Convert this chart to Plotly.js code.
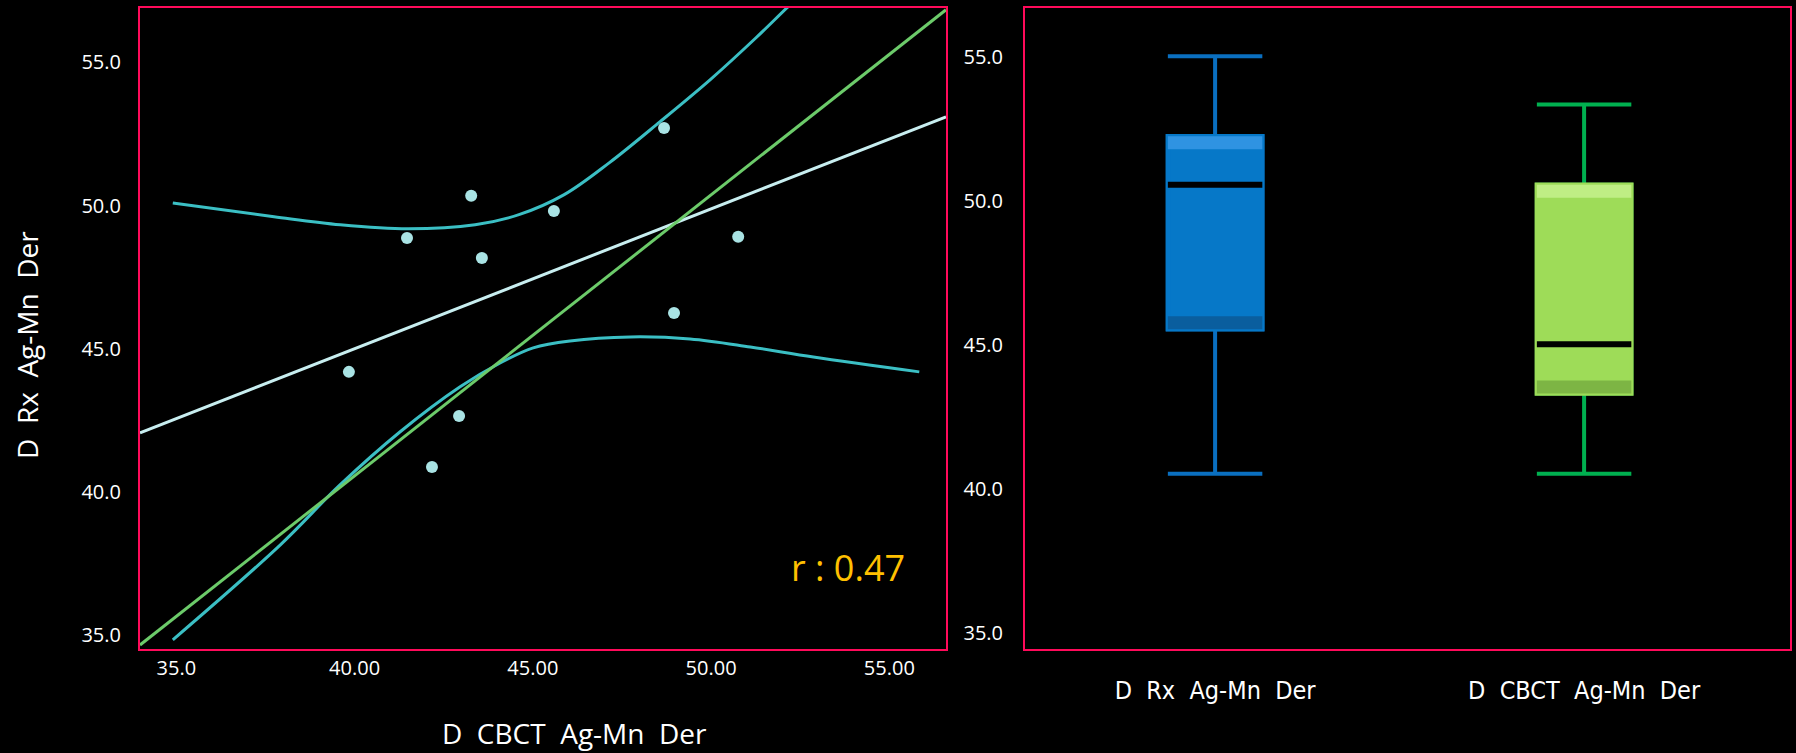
<!DOCTYPE html>
<html><head><meta charset="utf-8">
<script src="https://cdn.plot.ly/plotly-3.0.1.min.js"></script>
<style>html,body{margin:0;padding:0;background:#000;} #chart{width:1796px;height:753px;}</style>
</head><body><div id="chart"></div>
<script>
// Scatter data (D CBCT vs D Rx)
const cbct = [39.84, 41.47, 43.27, 43.57, 42.93, 42.17, 45.59, 48.68, 48.96, 50.76];
const rx   = [44.19, 48.87, 50.34, 48.17, 42.65, 40.87, 49.81, 52.71, 46.25, 48.91];
// Regression line and identity-like reference line (end points)
const fitX = [33.98, 56.59];
const fitY = [42.06, 53.10];
const refX = [33.98, 56.59];
const refY = [34.65, 56.84];
// Confidence band curves
const upperX = [34.90, 37.74, 39.60, 41.50, 43.38, 44.61, 45.88, 47.14, 48.57, 49.97, 51.26, 52.13, 52.78];
const upperY = [50.09, 49.61, 49.33, 49.19, 49.33, 49.68, 50.38, 51.49, 52.93, 54.39, 55.86, 56.91, 57.68];
const lowerX = [34.90, 37.91, 39.59, 41.27, 42.96, 44.08, 45.01, 46.04, 47.73, 49.41, 51.10, 52.87, 55.84];
const lowerY = [34.83, 38.14, 40.24, 42.09, 43.67, 44.50, 45.03, 45.27, 45.41, 45.34, 45.06, 44.71, 44.19];
const rText = 'r : 0.47';
const xTitle = 'D\u00A0\u00A0CBCT\u00A0\u00A0Ag-Mn\u00A0\u00A0Der';
const yTitle = 'D\u00A0\u00A0Rx\u00A0\u00A0Ag-Mn\u00A0\u00A0Der';
// Box plot data
const boxNames  = ['D\u00A0\u00A0Rx\u00A0\u00A0Ag-Mn\u00A0\u00A0Der', 'D\u00A0\u00A0CBCT\u00A0\u00A0Ag-Mn\u00A0\u00A0Der'];
const boxLow    = [40.53, 40.53];
const boxQ1     = [45.55, 43.32];
const boxMedian = [50.57, 45.03];
const boxQ3     = [52.25, 50.57];
const boxHigh   = [55.03, 53.36];
const boxFill   = ['#0678C8', '#9EDC58'];
const boxLight  = ['#2F93E2', '#BFEE84'];
const boxDark   = ['#0A5E9E', '#7DB544'];
const boxWhisk  = ['#0A6FC0', '#00B050'];
// Tick labels
const xTickVals = [35, 40, 45, 50, 55];
const xTickText = ['35.0', '40.00', '45.00', '50.00', '55.00'];
const yTickVals = [35, 40, 45, 50, 55];
const yTickText = ['35.0', '40.0', '45.0', '50.0', '55.0'];

const FONT = '"Open Sans", "Noto Sans", sans-serif';
const NARROW = '"Liberation Sans Narrow", "DejaVu Sans Condensed", "Open Sans", sans-serif';
const FRAME = '#FF0A5A';
const BEVEL = 0.45; // bevel strip thickness in data units (style only)
const BOXW = 0.256;  // box width in category units (style only)

const traces = [
  {x: upperX, y: upperY, xaxis: 'x', yaxis: 'y', mode: 'lines', line: {color: '#3BBFC4', width: 3, shape: 'spline'}, hoverinfo: 'skip'},
  {x: lowerX, y: lowerY, xaxis: 'x', yaxis: 'y', mode: 'lines', line: {color: '#3BBFC4', width: 3, shape: 'spline'}, hoverinfo: 'skip'},
  {x: fitX, y: fitY, xaxis: 'x', yaxis: 'y', mode: 'lines', line: {color: '#C8EEF0', width: 3}, hoverinfo: 'skip'},
  {x: refX, y: refY, xaxis: 'x', yaxis: 'y', mode: 'lines', line: {color: '#6CCB6A', width: 3}, hoverinfo: 'skip'},
  {x: cbct, y: rx, xaxis: 'x', yaxis: 'y', mode: 'markers', marker: {color: '#A9E3E4', size: 12}},
];

for (let i = 0; i < boxNames.length; i++) {
  const name = [boxNames[i]];
  // whiskers with caps
  traces.push({
    type: 'box', xaxis: 'x2', yaxis: 'y2', x: name,
    q1: [boxQ1[i]], median: [boxMedian[i]], q3: [boxQ3[i]],
    lowerfence: [boxLow[i]], upperfence: [boxHigh[i]],
    width: BOXW, whiskerwidth: 1,
    line: {color: boxWhisk[i], width: 4}, fillcolor: 'rgba(0,0,0,0)',
    hoverinfo: 'skip'
  });
  // filled box (stroke in fill colour hides the whisker trace's outline)
  traces.push({
    type: 'box', xaxis: 'x2', yaxis: 'y2', x: name,
    q1: [boxQ1[i]], median: [boxMedian[i]], q3: [boxQ3[i]],
    lowerfence: [boxQ1[i]], upperfence: [boxQ3[i]],
    width: BOXW, whiskerwidth: 0,
    line: {color: boxFill[i], width: 4.5}, fillcolor: boxFill[i],
    hoverinfo: 'skip'
  });
  // bevel: lighter top strip, darker bottom strip
  traces.push({
    type: 'box', xaxis: 'x2', yaxis: 'y2', x: name,
    q1: [boxQ3[i] - BEVEL], median: [boxQ3[i] - BEVEL], q3: [boxQ3[i]],
    lowerfence: [boxQ3[i] - BEVEL], upperfence: [boxQ3[i]],
    width: BOXW, whiskerwidth: 0,
    line: {color: boxLight[i], width: 0}, fillcolor: boxLight[i],
    hoverinfo: 'skip'
  });
  traces.push({
    type: 'box', xaxis: 'x2', yaxis: 'y2', x: name,
    q1: [boxQ1[i]], median: [boxQ1[i]], q3: [boxQ1[i] + BEVEL],
    lowerfence: [boxQ1[i]], upperfence: [boxQ1[i] + BEVEL],
    width: BOXW, whiskerwidth: 0,
    line: {color: boxDark[i], width: 0}, fillcolor: boxDark[i],
    hoverinfo: 'skip'
  });
  // black median bar
  traces.push({
    type: 'box', xaxis: 'x2', yaxis: 'y2', x: name,
    q1: [boxMedian[i]], median: [boxMedian[i]], q3: [boxMedian[i]],
    lowerfence: [boxMedian[i]], upperfence: [boxMedian[i]],
    width: BOXW, whiskerwidth: 0,
    line: {color: '#000000', width: 6}, fillcolor: 'rgba(0,0,0,0)',
    hoverinfo: 'skip'
  });
}

const tickFont = {family: FONT, size: 20, color: '#FFFFFF'};
const titleFont = {family: FONT, size: 28, color: '#FFFFFF'};

const layout = {
  width: 1796, height: 753,
  paper_bgcolor: '#000000', plot_bgcolor: '#000000',
  showlegend: false,
  boxmode: 'overlay',
  margin: {l: 140, r: 6, t: 8, b: 104},
  xaxis: {
    domain: [0, 0.4885], range: [33.98, 56.59],
    tickvals: xTickVals, ticktext: xTickText, tickfont: tickFont,
    ticks: '',
    showgrid: false, zeroline: false,
    showline: true, mirror: true, linecolor: FRAME, linewidth: 2,
    automargin: false
  },
  yaxis: {
    domain: [0, 1], range: [34.51, 56.9],
    tickvals: yTickVals, ticktext: yTickText, tickfont: tickFont,
    ticks: 'outside', ticklen: 13, tickcolor: 'rgba(0,0,0,0)',
    showgrid: false, zeroline: false,
    showline: true, mirror: true, linecolor: FRAME, linewidth: 2,
    automargin: false
  },
  xaxis2: {
    domain: [0.5364, 1], anchor: 'y2', type: 'category', range: [-0.515, 1.558],
    tickfont: {family: NARROW, size: 25, color: '#FFFFFF'},
    ticks: 'outside', ticklen: 18, tickcolor: 'rgba(0,0,0,0)',
    showgrid: false, zeroline: false,
    showline: true, mirror: true, linecolor: FRAME, linewidth: 2,
    automargin: false
  },
  yaxis2: {
    domain: [0, 1], anchor: 'x2', range: [34.44, 56.71],
    tickvals: yTickVals, ticktext: yTickText, tickfont: tickFont,
    ticks: 'outside', ticklen: 16, tickcolor: 'rgba(0,0,0,0)',
    showgrid: false, zeroline: false,
    showline: true, mirror: true, linecolor: FRAME, linewidth: 2,
    automargin: false
  },
  annotations: [
    {text: rText, xref: 'paper', yref: 'paper', x: 0.4291, y: 0.1264, xanchor: 'center', yanchor: 'middle',
     showarrow: false, font: {family: FONT, size: 36, color: '#FFC000'}},
    {text: xTitle, xref: 'paper', yref: 'paper', x: 0.2636, y: -0.131, xanchor: 'center', yanchor: 'middle',
     showarrow: false, font: titleFont},
    {text: yTitle, xref: 'paper', yref: 'paper', x: -0.0685, y: 0.4743, xanchor: 'center', yanchor: 'middle',
     textangle: -90, showarrow: false, font: titleFont}
  ]
};

Plotly.newPlot('chart', traces, layout, {displayModeBar: false, staticPlot: true});
</script>
</body></html>
